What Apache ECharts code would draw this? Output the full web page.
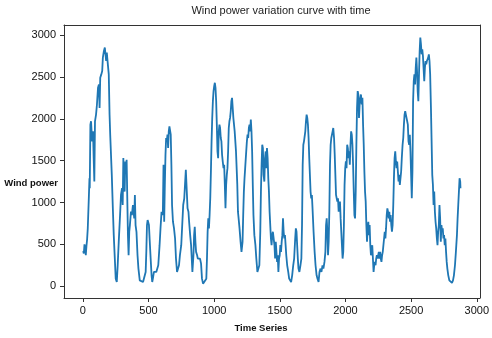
<!DOCTYPE html>
<html><head><meta charset="utf-8">
<script src="https://cdn.jsdelivr.net/npm/echarts@6/dist/echarts.min.js"></script>
<style>html,body{margin:0;padding:0;background:#fff}#c{width:492px;height:338px}</style>
</head><body><div id="c"></div>
<script>
const timeSeries = [2,7,12,17,22,27,32,37,45,50,52,57,62,70,77,82,87,92,100,107,115,122,127,132,140,147,152,160,167,175,177,182,190,197,203,208,213,220,228,235,243,250,258,265,273,283,290,298,303,308,313,318,323,328,333,338,343,348,353,358,366,373,381,
391,396,401,408,416,423,433,446,458,471,478,483,488,493,498,503,508,516,523,528,533,541,549,559,566,574,584,591,599,604,609,614,619,624,629,634,639,644,649,654,659,664,669,674,679,686,694,702,709,717,724,732,739,749,759,764,772,779,784,789,797,804,809,817,824,829,834,842,847,852,857,862,870,875,880,885,892,900,907,915,
930,940,945,950,955,960,965,970,975,980,985,990,995,1000,1005,1010,1015,1020,1025,1030,1035,1040,1045,1050,1055,1060,1065,1071,1076,1081,1086,1091,1096,1101,1106,1111,1116,1121,1126,1131,1136,1141,1146,1151,1156,1161,1166,1171,1176,1181,1186,1193,1201,1208,1216,1221,1226,1231,1236,1244,1249,1254,1259,1264,1269,1274,1279,1284,1289,1294,1299,1306,1314,1321,1329,1336,1344,1351,1356,1361,1366,1371,1376,1382,1387,1392,1397,1402,1407,1412,1417,1422,1427,1432,1437,1442,1447,
1454,1459,1464,1469,1474,1479,1484,1489,1494,1499,1504,1509,1514,1519,1524,1529,1534,1539,1544,1549,1556,1564,1571,1579,1586,1594,1602,1609,1617,1622,1627,1632,1637,1642,1649,1657,1664,1669,1674,1679,1684,1689,1694,1699,1704,1709,1714,1719,1724,1729,1734,1739,1744,1749,1757,1765,1772,1780,1787,1795,1802,1810,1817,1825,1832,1840,1847,1852,1857,1862,1867,1872,1877,1882,1887,1892,1897,1902,1907,1913,1918,1923,1928,1933,1938,1943,1948,1953,1958,1963,1968,
1973,1978,1983,1988,1993,1998,2003,2008,2013,2018,2023,2028,2033,2038,2043,2048,2053,2058,2063,2068,2073,2078,2083,2088,2093,2098,2103,2108,2113,2118,2124,2129,2134,2139,2144,2149,2154,2159,2164,2169,2174,2179,2184,2189,2194,2199,2204,2209,2214,2219,2224,2229,2234,2239,2244,2249,2254,2259,2264,2269,2274,2279,2284,2289,2294,2299,2304,2309,2314,2319,2324,2329,2334,2339,2344,2349,2354,2359,2364,2369,2374,2379,2384,2389,2394,2399,2404,2409,2414,2419,2424,2429,2435,2440,2445,2450,2455,2460,2465,2470,2475,2480,2485,2490,2495,2500,2505,
2510,2515,2520,2525,2530,2535,2540,2545,2550,2555,2560,2565,2570,2575,2580,2585,2590,2595,2600,2605,2610,2615,2620,2625,2630,2635,2640,2645,2651,2656,2661,2666,2671,2676,2681,2686,2691,2696,2701,2706,2711,2716,2721,2726,2731,2736,2741,2746,2751,2756,2761,2766,2771,2776,2783,2791,2801,2811,2819,2826,2834,2841,2849,2854,2859,2864,2869,2874,2876];
const windPower = [420,390,500,450,370,480,560,690,1050,1290,1170,1930,1970,1730,1850,1530,1250,1970,2050,2170,2370,2410,2130,2490,2530,2570,2730,2810,2850,2830,2690,2790,2650,2530,2050,1810,1610,1330,930,610,330,90,50,250,530,850,1090,1170,970,1530,1210,1130,1490,1370,1510,1050,610,370,650,730,890,850,970,
810,1090,730,650,370,210,70,50,50,70,170,410,730,790,810,730,570,330,130,50,90,170,150,170,190,250,490,690,890,850,890,1450,770,1210,1570,1770,1730,1810,1650,1850,1910,1890,1810,1450,970,770,690,570,330,170,150,250,370,490,810,970,1050,1250,1390,1210,930,890,770,610,490,330,170,370,610,710,530,410,370,330,310,350,330,270,90,30,
30,90,330,650,810,690,850,1050,1370,1730,2010,2210,2330,2390,2430,2370,2210,1930,1610,1530,1850,1930,1890,1770,1730,1570,1490,1410,1450,1210,930,1210,1330,1410,1610,1890,1970,2010,2090,2210,2250,2130,2010,1930,1850,1730,1610,1410,1210,890,810,690,530,410,530,850,1130,1290,1410,1610,1730,1810,1770,1890,1930,1850,1990,1850,1610,1210,850,610,490,330,170,150,250,650,1130,1450,1690,1650,1330,1250,1530,1610,1410,1650,1530,1290,1130,890,730,570,490,610,650,
650,490,330,530,410,290,370,170,330,370,490,410,530,610,810,650,570,610,490,370,250,170,90,70,50,130,250,330,570,690,650,490,330,210,170,250,330,730,1450,1690,1730,1750,1850,1970,2050,2010,1930,1770,1530,1330,1130,1050,1090,930,650,410,250,130,90,50,170,210,170,250,210,290,410,730,810,650,370,530,890,1450,1690,1770,1810,1850,1890,1770,1570,1330,1090,1050,1010,1050,890,970,1010,810,650,
490,330,410,730,1210,1410,1490,1410,1690,1650,1530,1610,1450,1690,1850,1810,1690,1450,1130,850,810,1130,1690,2130,2330,2290,2010,2170,2250,2290,2170,2250,1930,1690,1370,1130,1010,730,530,690,770,610,730,490,370,410,490,330,170,250,290,250,330,370,330,370,410,330,410,330,290,370,410,490,570,650,570,690,850,930,890,810,890,770,850,730,650,730,970,1290,1530,1610,1490,1410,1490,1370,1250,1330,1210,1290,1370,1530,1690,1770,1930,2050,2090,2050,2010,1970,1930,1730,1690,1810,1610,1330,1050,
1370,2210,2450,2530,2410,2610,2730,2570,2330,2210,2530,2810,2970,2890,2770,2830,2750,2730,2450,2610,2690,2650,2690,2710,2730,2770,2690,2530,2130,1730,1330,1210,970,1130,890,770,690,570,490,650,730,970,810,530,730,650,690,570,610,490,570,410,290,210,130,70,50,40,70,130,250,410,610,810,970,1130,1290,1250,1170];
const xTickValues = [0,500,1000,1500,2000,2500,3000];
const yTickValues = [0,500,1000,1500,2000,2500,3000];
const chartTitle = 'Wind power variation curve with time';
const xName = 'Time Series';
const yName = 'Wind power';

const chart = echarts.init(document.getElementById('c'), null, {renderer:'canvas'});
const pts = timeSeries.map((t,i)=>[t, windPower[i]]);
const lbl = {fontSize:11, color:'#111', fontFamily:'Liberation Sans', formatter:(v)=>String(v)};
const frameLine = {show:true, onZero:false, lineStyle:{color:'#333', width:1}};
const X_MIN = -144, X_MAX = 3023, Y_MIN = -141, Y_MAX = 3120;
chart.setOption({
  animation:false,
  backgroundColor:'#fff',
  grid:{left:64, right:7, top:25, bottom:40, containLabel:false},
  xAxis:[
    {type:'value', min:X_MIN, max:X_MAX, position:'bottom',
      splitLine:{show:false}, axisLine:frameLine,
      axisTick:{show:true, customValues:xTickValues, length:4, lineStyle:{color:'#333'}},
      axisLabel:Object.assign({customValues:xTickValues, margin:7}, lbl)},
    {type:'value', min:X_MIN, max:X_MAX, position:'top',
      splitLine:{show:false}, axisLine:frameLine, axisTick:{show:false}, axisLabel:{show:false}}
  ],
  yAxis:[
    {type:'value', min:Y_MIN, max:Y_MAX, position:'left',
      splitLine:{show:false}, axisLine:frameLine,
      axisTick:{show:true, customValues:yTickValues, length:4, lineStyle:{color:'#333'}},
      axisLabel:Object.assign({customValues:yTickValues, margin:8}, lbl)},
    {type:'value', min:Y_MIN, max:Y_MAX, position:'right',
      splitLine:{show:false}, axisLine:frameLine, axisTick:{show:false}, axisLabel:{show:false}}
  ],
  graphic:[
    {type:'text', x:281, y:11, style:{text:chartTitle, font:'11px "Liberation Sans"', fill:'#222', align:'center', verticalAlign:'middle'}},
    {type:'text', x:261, y:328, style:{text:xName, font:'bold 9.5px "Liberation Sans"', fill:'#111', align:'center', verticalAlign:'middle'}},
    {type:'text', x:58, y:183, style:{text:yName, font:'bold 9.5px "Liberation Sans"', fill:'#111', align:'right', verticalAlign:'middle'}}
  ],
  series:[{type:'line', xAxisIndex:0, yAxisIndex:0, data:pts, showSymbol:false, symbol:'none', clip:true,
    lineStyle:{color:'#1f77b4', width:1.8}}]
});
</script></body></html>
